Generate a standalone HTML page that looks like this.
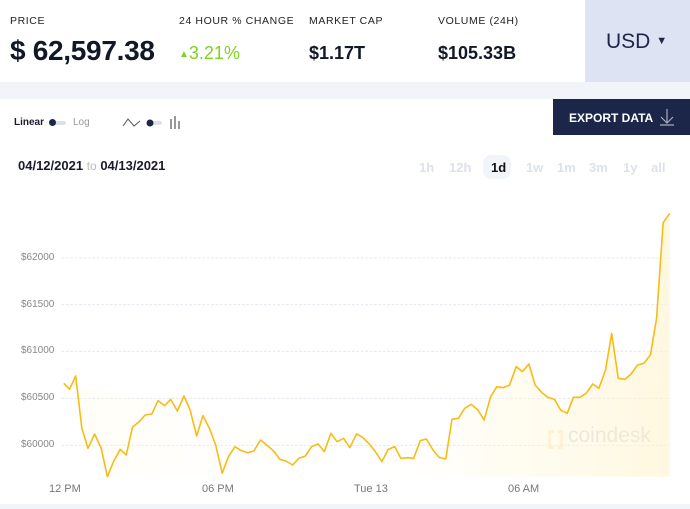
<!DOCTYPE html>
<html><head><meta charset="utf-8"><style>
body{margin:0;width:690px;height:509px;overflow:hidden;background:#fff;font-family:"Liberation Sans",sans-serif;position:relative;color:#1a1a2e}
.a{position:absolute;white-space:nowrap}
.lab{font-size:10.5px;letter-spacing:0.6px;color:#222;top:15px}
.val{font-weight:bold;top:43px;font-size:18px;color:#111827}
.tab{font-size:13px;color:#dde1ea;font-weight:bold;top:160px}
.yl{font-size:10px;color:#888;left:21px}
.xl{font-size:11px;color:#777;top:483px}
</style></head><body>
<div class="a lab" style="left:10px">PRICE</div>
<div class="a lab" style="left:179px">24 HOUR % CHANGE</div>
<div class="a lab" style="left:309px">MARKET CAP</div>
<div class="a lab" style="left:438px">VOLUME (24H)</div>
<div class="a val" style="left:10px;top:35px;font-size:28px;letter-spacing:-0.3px">$ 62,597.38</div>
<div class="a val" style="left:179px;color:#7ed321;font-weight:normal;top:43px"><span style="font-size:10px;vertical-align:2px">▲</span>3.21%</div>
<div class="a val" style="left:309px">$1.17T</div>
<div class="a val" style="left:438px">$105.33B</div>
<div class="a" style="left:585px;top:0;width:105px;height:82px;background:#dde3f3"></div>
<div class="a" style="left:606px;top:30px;font-size:21px;color:#1b2649">USD <span style="font-size:11px;vertical-align:4px">▼</span></div>
<div class="a" style="left:0;top:82px;width:690px;height:17px;background:#f1f4f9"></div>
<div class="a" style="left:553px;top:99px;width:137px;height:36px;background:#1b2649"></div>
<div class="a" style="left:569px;top:111px;color:#fff;font-size:12px;font-weight:bold">EXPORT DATA</div>
<svg class="a" style="left:658px;top:108px" width="18" height="18"><path d="M9 1V15M3 9L9 15L15 9M2 17H16" stroke="#aab" fill="none" stroke-width="1.2"/></svg>
<div class="a" style="left:14px;top:117px;font-size:10px;font-weight:bold">Linear</div>
<div class="a" style="left:51px;top:121px;width:15px;height:4px;background:#dde1ea;border-radius:2px"></div>
<div class="a" style="left:49px;top:119px;width:7px;height:7px;background:#1b2649;border-radius:4px"></div>
<div class="a" style="left:73px;top:117px;font-size:10px;color:#999">Log</div>
<svg class="a" style="left:122px;top:115px" width="66" height="16"><path d="M1 11L6 4L12 11L18 6" stroke="#555" fill="none"/><rect x="26" y="6" width="14" height="4" rx="2" fill="#dde1ea"/><circle cx="28" cy="8" r="3.5" fill="#1b2649"/><path d="M49 4V14M53 1V14M57 6V14" stroke="#999" stroke-width="2"/></svg>
<div class="a" style="left:18px;top:158px;font-size:13px;font-weight:bold">04/12/2021 <span style="font-weight:normal;color:#bbb;font-size:12px">to</span> 04/13/2021</div>
<div class="a tab" style="left:419px">1h</div>
<div class="a tab" style="left:449px">12h</div>
<div class="a" style="left:483px;top:155px;width:28px;height:24px;background:#f1f4f9;border-radius:8px"></div>
<div class="a tab" style="left:491px;color:#111">1d</div>
<div class="a tab" style="left:526px">1w</div>
<div class="a tab" style="left:557px">1m</div>
<div class="a tab" style="left:589px">3m</div>
<div class="a tab" style="left:623px">1y</div>
<div class="a tab" style="left:651px">all</div>
<div class="a yl" style="top:252px">$62000</div>
<div class="a yl" style="top:299px">$61500</div>
<div class="a yl" style="top:345px">$61000</div>
<div class="a yl" style="top:392px">$60500</div>
<div class="a yl" style="top:439px">$60000</div>
<div class="a xl" style="left:49px">12 PM</div>
<div class="a xl" style="left:202px">06 PM</div>
<div class="a xl" style="left:354px">Tue 13</div>
<div class="a xl" style="left:508px">06 AM</div>
<div class="a" style="left:568px;top:424px;font-size:21px;color:#dde0e7">coindesk</div>
<div class="a" style="left:548px;top:430px;width:9px;height:13px;border:3px dashed #fcf2d6"></div>
<svg class="a" style="left:0;top:180px" width="690" height="329" viewBox="0 0 1568 987" preserveAspectRatio="none">
<defs><linearGradient id="g" x1="0" x2="1" y1="0" y2="0"><stop offset="0" stop-color="#fff8dc" stop-opacity="0.4"/><stop offset="0.5" stop-color="#fff" stop-opacity="0"/><stop offset="0.7" stop-color="#fff6d5" stop-opacity="0.4"/><stop offset="1" stop-color="#fff3c8" stop-opacity="0.8"/></linearGradient></defs>
<g stroke="#e6e8f0" stroke-width="3" stroke-dasharray="6 4"><path d="M140 234H1522M140 374H1522M140 514H1522M140 655H1522M140 796H1522"/></g>
<path d="M145 610L158 628L172 588L186 745L200 805L215 762L230 805L244 890L1522 890L1522 100L1507 128L1492 415L1478 525L1463 550L1449 555L1434 582L1420 598L1405 595L1390 460L1376 570L1361 625L1347 612L1332 640L1303 652L1289 700L1274 690L1245 652L1216 615L1202 552L1173 560L1158 615L1129 620L1115 650L1100 720L1086 690L1071 673L1042 715L1027 718L1013 837Z" fill="url(#g)" opacity="0.7"/>
<path d="M145 610L158 628L172 588L186 745L200 805L215 762L230 805L244 890L258 845L273 808L287 825L301 742L316 725L330 705L345 702L359 662L374 677L388 658L403 693L418 648L432 690L447 768L461 707L476 745L490 795L505 880L519 830L534 800L548 812L563 818L577 813L592 780L606 795L621 812L636 838L650 843L665 855L679 835L694 828L708 800L723 792L737 815L752 760L766 785L781 775L795 803L810 762L824 772L839 792L853 815L868 845L882 808L897 800L911 835L926 833L940 835L955 782L969 777L984 810L998 832L1013 837L1027 718L1042 715L1056 685L1071 673L1086 690L1100 720L1115 650L1129 620L1144 623L1158 615L1173 560L1187 575L1202 552L1216 615L1231 637L1245 652L1260 658L1274 690L1289 700L1303 652L1318 652L1332 640L1347 612L1361 625L1376 570L1390 460L1405 595L1420 598L1434 582L1449 555L1463 550L1478 525L1492 415L1507 128L1522 100" fill="none" stroke="#f7bc17" stroke-linejoin="round" vector-effect="non-scaling-stroke" style="stroke-width:1.6px"/>
<rect x="0" y="972" width="1568" height="15" fill="#f1f4f9"/>
</svg>
</body></html>
